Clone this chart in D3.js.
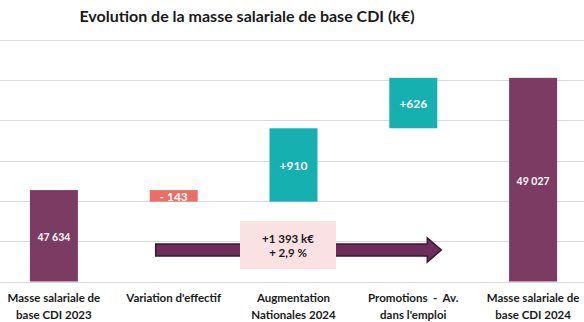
<!DOCTYPE html>
<html>
<head>
<meta charset="utf-8">
<script src="https://cdn.jsdelivr.net/npm/d3@7"></script>
<style>
  body { margin: 0; background: #fff; }
  svg { display: block; font-family: Lato, "Open Sans", sans-serif; }
  text { white-space: pre; }
</style>
</head>
<body>
<div id="chart"></div>
<script>
const categories = [
    ['Masse salariale de', 'base CDI 2023'],
    ['Variation d\'effectif'],
    ['Augmentation', 'Nationales 2024'],
    ['Promotions  -  Av.', 'dans l\'emploi'],
    ['Masse salariale de', 'base CDI 2024']
];
const steps = [47634, -143, 910, 626, 49027];
const stepLabels = ['47 634', '- 143', '+910', '+626', '49 027'];
const stepTypes = ['total', 'neg', 'pos', 'pos', 'total'];
const yTicks = [46500, 47000, 47500, 48000, 48500, 49000, 49500];
const summaryLines = ['+1 393 k\u20ac', '+ 2,9 %'];

const width = 584;
const height = 322;

const colors = { total: '#7b3b63', neg: '#e96e63', pos: '#16b0b0' };

const svg = d3.select('#chart')
    .append('svg')
    .attr('width', width)
    .attr('height', height);

const x = d3.scaleBand()
    .domain(d3.range(categories.length))
    .range([-6, 593]);

const y = d3.scaleLinear()
    .domain([46500, 49500])
    .range([281.5, 39.7]);

// running totals for the waterfall
let running = 0;
const bars = steps.map((v, i) => {
    let y0, y1;
    if (stepTypes[i] === 'total') {
        y0 = 46500; y1 = v; running = v;
    } else {
        y0 = running; y1 = running + v; running = y1;
    }
    return { i, lo: Math.min(y0, y1), hi: Math.max(y0, y1), type: stepTypes[i], label: stepLabels[i] };
});

// grid
svg.append('g')
    .selectAll('line')
    .data(yTicks)
    .enter()
    .append('line')
    .attr('x1', 0)
    .attr('x2', width)
    .attr('y1', d => Math.round(y(d)) + 0.5)
    .attr('y2', d => Math.round(y(d)) + 0.5)
    .style('stroke', '#d9d9d9')
    .style('stroke-width', 1);

const barW = 48;

const g = svg.selectAll('.bar')
    .data(bars)
    .enter()
    .append('g')
    .attr('class', 'bar');

g.append('rect')
    .attr('x', d => x(d.i) + x.bandwidth() / 2 - barW / 2)
    .attr('y', d => y(d.hi))
    .attr('width', barW)
    .attr('height', d => y(d.lo) - y(d.hi))
    .attr('fill', d => colors[d.type]);

g.append('text')
    .attr('x', d => x(d.i) + x.bandwidth() / 2)
    .attr('y', d => (y(d.lo) + y(d.hi)) / 2 + (d.type === 'total' ? 2 : 1))
    .attr('dy', '.35em')
    .attr('text-anchor', 'middle')
    .style('fill', '#fff')
    .style('font-size', d => d.type === 'total' ? '10.5px' : '12px')
    .style('font-weight', 'bold')
    .text(d => d.label);

// category labels
const labels = svg.selectAll('.cat')
    .data(categories)
    .enter()
    .append('text')
    .attr('class', 'cat')
    .attr('text-anchor', 'middle')
    .attr('x', (d, i) => x(i) + x.bandwidth() / 2)
    .attr('y', 302)
    .style('font-size', '11.5px')
    .style('font-weight', 'bold')
    .style('fill', '#1a1a1a');

labels.selectAll('tspan')
    .data(d => d)
    .enter()
    .append('tspan')
    .attr('x', function () { return d3.select(this.parentNode).attr('x'); })
    .attr('dy', (d, j) => j === 0 ? 0 : 17)
    .text(d => d);

// summary arrow from first to last step
const ax0 = x(1) + x.bandwidth() / 2 - 18;
const ax1 = x(3) + x.bandwidth() / 2 + 28;
const ay = 250;
const headLen = 14;
svg.append('path')
    .attr('d', [
        'M', ax0, ay - 6,
        'L', ax1 - headLen, ay - 6,
        'L', ax1 - headLen, ay - 12,
        'L', ax1, ay,
        'L', ax1 - headLen, ay + 12,
        'L', ax1 - headLen, ay + 6,
        'L', ax0, ay + 6, 'Z'
    ].join(' '))
    .attr('fill', '#6e2e5c')
    .attr('stroke', '#3a1830')
    .attr('stroke-width', 1.5);

svg.append('rect')
    .attr('x', 240)
    .attr('y', 221)
    .attr('width', 96)
    .attr('height', 48)
    .attr('fill', '#fbe2e2');

svg.append('text')
    .attr('text-anchor', 'middle')
    .attr('x', 288)
    .attr('y', 243)
    .style('font-size', '11.5px')
    .style('font-weight', 'bold')
    .style('fill', '#1a1a1a')
    .selectAll('tspan')
    .data(summaryLines)
    .enter()
    .append('tspan')
    .attr('x', 288)
    .attr('dy', (d, j) => j === 0 ? 0 : 14)
    .text(d => d);

svg.append('text')
    .attr('x', 247)
    .attr('y', 22)
    .attr('text-anchor', 'middle')
    .style('font-size', '16px')
    .style('font-weight', 'bold')
    .style('fill', '#1a1a1a')
    .text('Evolution de la masse salariale de base CDI (k\u20ac)');
</script>
</body>
</html>
